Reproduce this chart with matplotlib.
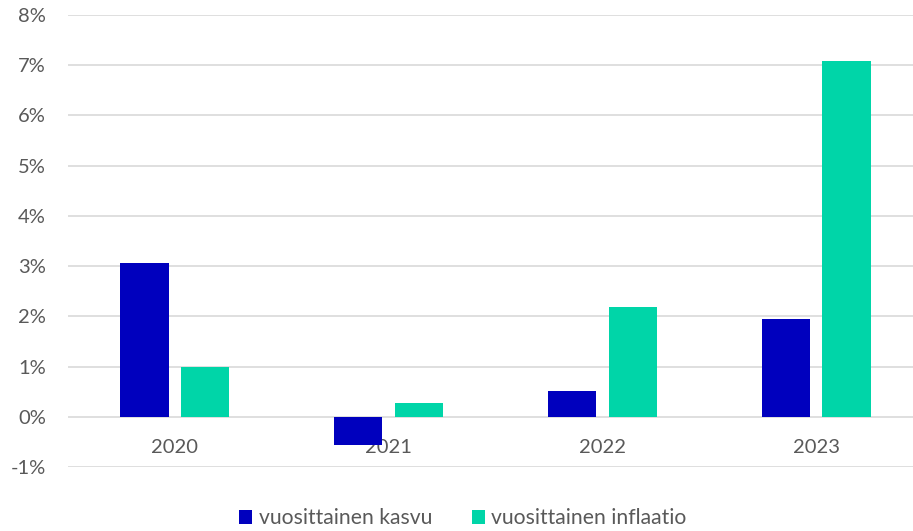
import numpy as np
import matplotlib
matplotlib.use('Agg')
import matplotlib.pyplot as plt
from matplotlib.ticker import FuncFormatter

years = ["2020", "2021", "2022", "2023"]
kasvu = [3.07, -0.56, 0.52, 1.94]
inflaatio = [0.99, 0.28, 2.19, 7.09]
series_names = ["vuosittainen kasvu", "vuosittainen inflaatio"]

blue = "#0000BE"
green = "#00D5A8"
text_col = "#595959"

plt.rcParams['font.family'] = ['Lato', 'DejaVu Sans']

fig = plt.figure(figsize=(9.13, 5.31), dpi=100)
# axes runs a bit past the right edge, as in the reference crop
ax = fig.add_axes([68 / 913, 64 / 531, 855 / 913, 452 / 531])

x = np.arange(len(years))
w = 0.225
off = 0.142
ax.bar(x - off, kasvu, w, color=blue, label=series_names[0], zorder=2)
ax.bar(x + off, inflaatio, w, color=green, label=series_names[1], zorder=2)

ax.set_xlim(-0.5, 3.5)
ax.set_ylim(-1, 8)
ax.set_yticks(np.arange(-1, 9, 1))
ax.yaxis.set_major_formatter(FuncFormatter(lambda v, p: f"{v:.0f}%"))
ax.set_xticks(x)
ax.set_xticklabels(years)

ax.set_axisbelow(True)
ax.grid(axis='y', color='#D9D9D9', linewidth=1.2)
for s in ax.spines.values():
    s.set_visible(False)
ax.spines['bottom'].set_position(('data', 0))
ax.tick_params(axis='both', length=0, labelsize=14.5, labelcolor=text_col)
ax.tick_params(axis='y', pad=16)
ax.tick_params(axis='x', pad=16)

fig.legend(loc='center', bbox_to_anchor=(463 / 913, 0.024), ncol=2, frameon=False,
           fontsize=15.2, labelcolor=text_col, handlelength=0.62, handleheight=0.62,
           handletextpad=0.3, columnspacing=1.9, borderpad=0)

fig.savefig("out.png", dpi=100)
